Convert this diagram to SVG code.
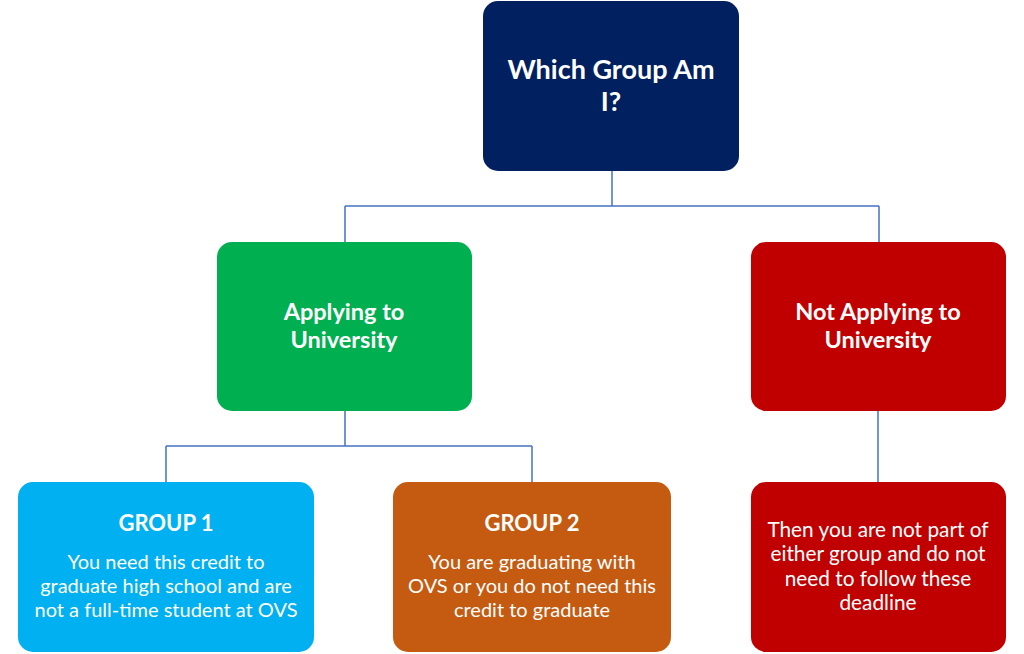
<svg xmlns="http://www.w3.org/2000/svg" width="1024" height="654" viewBox="0 0 1024 654">
<style>
.t{font-family:Lato,"Open Sans","Liberation Sans",sans-serif;fill:#fff;text-anchor:middle}
.h{font-weight:bold;font-size:23.5px}
.big{font-weight:bold;font-size:27px}
.g{font-weight:bold;font-size:22px}
.b{font-size:20px}
.r{font-size:20.8px}
.c{fill:none;stroke:#4472C4;stroke-width:1.5}
</style>
<rect width="1024" height="654" fill="#fff"/>
<g id="connectors">
<path class="c" d="M612 171V206M345 206H879M345 206V242M879 206V242"/>
<path class="c" d="M345 411V446M166 446H532M166 446V482M532 446V482"/>
<path class="c" d="M878 411V482"/>
</g>
<g id="root">
<rect x="483" y="1" width="256" height="170" rx="15" fill="#002060"/>
<text class="t big" x="611" y="79">Which Group Am</text>
<text class="t big" x="611" y="111">I?</text>
</g>
<g id="applying">
<rect x="217" y="242" width="255" height="169" rx="15" fill="#00B050"/>
<text class="t h" x="344" y="320">Applying to</text>
<text class="t h" x="344" y="348">University</text>
</g>
<g id="notapplying">
<rect x="751" y="242" width="255" height="169" rx="15" fill="#C00000"/>
<text class="t h" x="878" y="320">Not Applying to</text>
<text class="t h" x="878" y="348">University</text>
</g>
<g id="group1">
<rect x="18" y="482" width="296" height="170" rx="15" fill="#00B0F0"/>
<text class="t g" x="166" y="531">GROUP 1</text>
<text class="t b" x="166" y="569">You need this credit to</text>
<text class="t b" x="166" y="593">graduate high school and are</text>
<text class="t b" x="166" y="617">not a full-time student at OVS</text>
</g>
<g id="group2">
<rect x="393" y="482" width="278" height="170" rx="15" fill="#C55A11"/>
<text class="t g" x="532" y="531">GROUP 2</text>
<text class="t b" x="532" y="569">You are graduating with</text>
<text class="t b" x="532" y="593">OVS or you do not need this</text>
<text class="t b" x="532" y="617">credit to graduate</text>
</g>
<g id="notpart">
<rect x="751" y="482" width="255" height="170" rx="15" fill="#C00000"/>
<text class="t r" x="878" y="537">Then you are not part of</text>
<text class="t r" x="878" y="561">either group and do not</text>
<text class="t r" x="878" y="586">need to follow these</text>
<text class="t r" x="878" y="610">deadline</text>
</g>
</svg>
